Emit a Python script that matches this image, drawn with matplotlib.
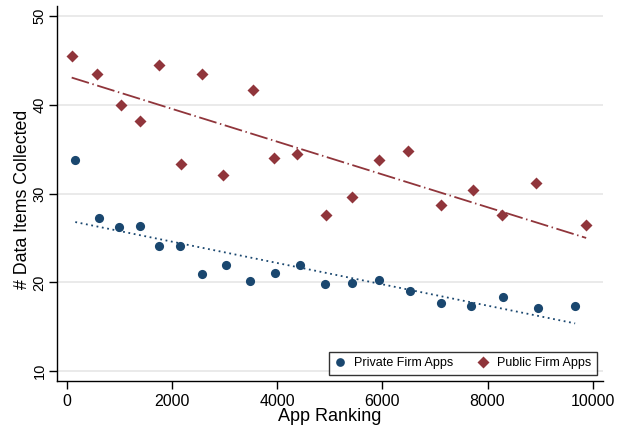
import numpy as np
import matplotlib.pyplot as plt

plt.rcParams['font.family'] = ['Liberation Sans', 'DejaVu Sans']

# binned app ranking (x) and mean # data items (y)
private_rank = [153, 597, 984, 1383, 1739, 2139, 2570, 3014, 3483, 3952,
                4422, 4904, 5424, 5937, 6521, 7106, 7682, 8291, 8957, 9667]
private_items = [33.75, 27.2, 26.2, 26.3, 24.1, 24.1, 20.9, 21.9, 20.2, 21.0,
                 21.95, 19.8, 19.9, 20.3, 19.0, 17.7, 17.35, 18.35, 17.1, 17.3]

public_rank = [84, 571, 1022, 1383, 1745, 2163, 2570, 2957, 3533, 3927,
               4371, 4929, 5412, 5932, 6478, 7106, 7727, 8278, 8925, 9877]
public_items = [45.5, 43.5, 40.0, 38.2, 44.5, 33.3, 43.4, 32.1, 41.6, 34.0,
                34.5, 27.6, 29.6, 33.8, 34.8, 28.75, 30.4, 27.55, 31.2, 26.5]

# linear fit (intercept, slope) on underlying data
private_fit = (26.97, -0.001199)
public_fit = (43.20, -0.001843)

navy = '#1a476f'
maroon = '#90353b'

fig = plt.figure(figsize=(6.33, 4.30), dpi=100)
ax = fig.add_axes([0.0905, 0.114, 0.8615, 0.872])

for y in [10, 20, 30, 40, 50]:
    ax.axhline(y, color='#e6e6e6', lw=1.2, zorder=0)

xr = np.array([min(private_rank), max(private_rank)])
ax.plot(xr, private_fit[0] + private_fit[1] * xr, color=navy, lw=1.3,
        ls=(0, (1, 2)), zorder=2)
xr = np.array([min(public_rank), max(public_rank)])
ax.plot(xr, public_fit[0] + public_fit[1] * xr, color=maroon, lw=1.3,
        ls=(0, (10, 2, 0.8, 2)), zorder=2)

ax.plot(private_rank, private_items, 'o', color=navy, ms=6.6, mec='none',
        label='Private Firm Apps', zorder=3)
ax.plot(public_rank, public_items, 'D', color=maroon, ms=6.6, mec='none',
        label='Public Firm Apps', zorder=3)

ax.set_xlim(-190, 10190)
ax.set_ylim(8.9, 51.1)
ax.set_xticks([0, 2000, 4000, 6000, 8000, 10000])
ax.set_yticks([10, 20, 30, 40, 50])
ax.set_yticklabels(['10', '20', '30', '40', '50'], rotation=90, va='center')
ax.tick_params(axis='x', labelsize=11.5, length=5.5, width=1, pad=4)
ax.tick_params(axis='y', labelsize=10.5, length=5.8, width=1, pad=2)

for s in ['top', 'right']:
    ax.spines[s].set_visible(False)
for s in ['left', 'bottom']:
    ax.spines[s].set_linewidth(1)

ax.set_xlabel('App Ranking', fontsize=13, labelpad=-1)
ax.set_ylabel('# Data Items Collected', fontsize=12.8)
ax.yaxis.set_label_coords(-0.049, 0.485)

leg = ax.legend(ncol=2, loc='lower right', bbox_to_anchor=(0.989, 0.016),
                fontsize=9, frameon=True, fancybox=False, edgecolor='black',
                handletextpad=0.7, columnspacing=2.0, borderpad=0.45,
                handlelength=0.8, markerscale=0.95, borderaxespad=0)
leg.get_frame().set_linewidth(1)

fig.savefig('out.png', dpi=100)
